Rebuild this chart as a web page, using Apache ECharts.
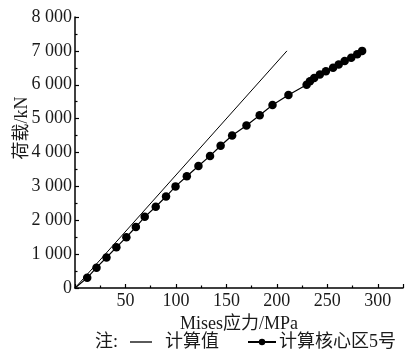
<!DOCTYPE html>
<html>
<head>
<meta charset="utf-8">
<script src="https://cdn.jsdelivr.net/npm/echarts@6/dist/echarts.min.js"></script>
<style>
html,body{margin:0;padding:0;background:#fff;}
#chart{width:406px;height:354px;}
</style>
</head>
<body>
<div id="chart"></div>
<script>
var seriesNames = ['计算值', '计算核心区5号'];
var stressCalc = [0, 210];
var loadCalc = [0, 7000];
var stressCore = [0, 12.1, 21.3, 31.2, 41.0, 50.9, 60.3, 69.1, 80.0, 90.2, 99.6, 110.8, 122.3, 133.8,
  144.3, 155.7, 169.9, 183.0, 195.7, 211.5, 229.5, 232.8, 237.0, 242.6, 248.6, 255.7, 261.3, 267.2, 273.7, 279.6, 284.5];
var loadCore = [0, 300, 600, 900, 1200, 1500, 1800, 2100, 2400, 2700, 3000, 3300, 3600, 3900,
  4200, 4500, 4800, 5100, 5400, 5700, 6000, 6100, 6200, 6300, 6400, 6500, 6600, 6700, 6800, 6900, 7000];
var xLabels = [50, 100, 150, 200, 250, 300];
var xName = 'Mises应力/MPa';
var yName = '荷载/kN';
var noteText = '注:';

var FONT = '"Liberation Serif", "Noto Sans CJK SC", serif';
var TXT = '#1a1a1a';

var calcData = stressCalc.map(function (x, i) { return [x, loadCalc[i]]; });
var coreData = stressCore.map(function (x, i) {
  var d = { value: [x, loadCore[i]] };
  if (i === 0) d.symbol = 'none';
  return d;
});

var chart = echarts.init(document.getElementById('chart'), null, { renderer: 'canvas' });
chart.setOption({
  animation: false,
  backgroundColor: '#fff',
  grid: { left: 75, right: 1, top: 17, bottom: 66, containLabel: false },
  xAxis: {
    type: 'value', min: 0, max: 325, interval: 50,
    name: xName, nameLocation: 'middle', nameGap: 23,
    nameTextStyle: { fontFamily: FONT, fontSize: 18, color: TXT },
    axisLine: { show: true, lineStyle: { color: '#000', width: 1.5 } },
    axisTick: { show: true, inside: true, length: 4, lineStyle: { color: '#000', width: 1.2 } },
    minorTick: { show: true, splitNumber: 2, length: 2.5, lineStyle: { color: '#000', width: 1.2 } },
    splitLine: { show: false },
    axisLabel: {
      fontFamily: FONT, fontSize: 18, color: TXT, margin: 4,
      formatter: function (v) { return xLabels.indexOf(v) >= 0 ? String(v) : ''; }
    }
  },
  yAxis: {
    type: 'value', min: 0, max: 8000, interval: 1000,
    axisLine: { show: true, lineStyle: { color: '#000', width: 1.5 } },
    axisTick: { show: true, inside: true, length: 4, lineStyle: { color: '#000', width: 1.2 } },
    minorTick: { show: true, splitNumber: 2, length: 2.5, lineStyle: { color: '#000', width: 1.2 } },
    splitLine: { show: false },
    axisLabel: {
      fontFamily: FONT, fontSize: 18, color: TXT, margin: 3,
      formatter: function (v) {
        if (v === 0) return '0';
        var s = String(v);
        return s.slice(0, s.length - 3) + ' ' + s.slice(s.length - 3);
      }
    }
  },
  legend: [
    {
      data: [{ name: seriesNames[0], icon: 'rect' }], left: 125, top: 328, itemWidth: 22, itemHeight: 1.3,
      textStyle: { fontFamily: FONT, fontSize: 18, color: TXT, padding: [0, 0, 0, 8] }
    },
    {
      data: [seriesNames[1]], left: 242, top: 328, itemWidth: 28, itemHeight: 8,
      textStyle: { fontFamily: FONT, fontSize: 18, color: TXT, padding: [0, 0, 0, -2] }
    }
  ],
  graphic: [
    {
      type: 'text', x: 22, y: 128, rotation: Math.PI / 2,
      style: { text: yName, font: '18px ' + FONT, fill: TXT, align: 'center', verticalAlign: 'middle' }
    },
    {
      type: 'text', x: 95, y: 342,
      style: { text: noteText, font: '18px ' + FONT, fill: TXT, align: 'left', verticalAlign: 'middle' }
    }
  ],
  series: [
    {
      name: seriesNames[0], type: 'line', data: calcData,
      symbol: 'none', lineStyle: { color: '#000', width: 1 }, itemStyle: { color: '#000' }
    },
    {
      name: seriesNames[1], type: 'line', data: coreData,
      symbol: 'circle', symbolSize: 8.5,
      lineStyle: { color: '#000', width: 1.2 }, itemStyle: { color: '#000' }
    }
  ]
});
</script>
</body>
</html>
